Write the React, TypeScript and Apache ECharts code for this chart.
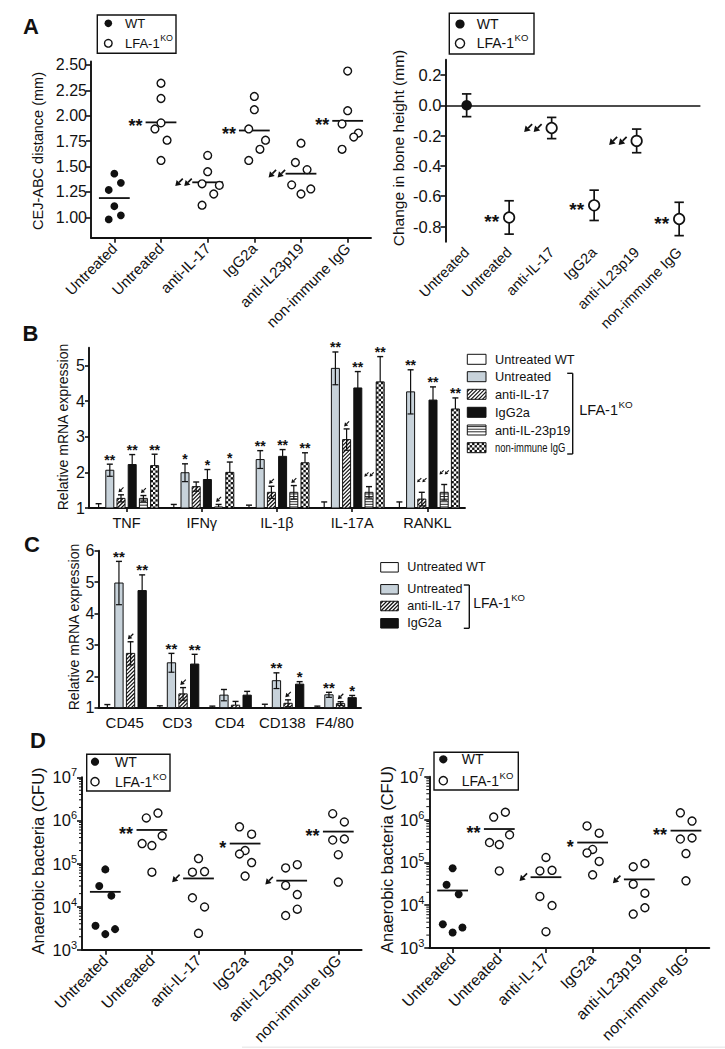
import React, { useEffect, useRef } from 'react';
import * as echarts from 'echarts';

const FONT = '"Liberation Sans", Arimo, Arial, Helvetica, sans-serif';
const BLACK = '#111111';
const GREY = '#c7d2da';

// ---------------- Panel A (left): CEJ-ABC distance (mm) ----------------
const treatmentLabels = ['Untreated', 'Untreated', 'anti-IL-17', 'IgG2a', 'anti-IL23p19', 'non-immune IgG'];
const cejWT = [1.43, 1.34, 1.27, 1.11, 0.98, 1.02];
const cejUntreatedKO = [2.32, 2.17, 1.93, 1.87, 1.76, 1.56];
const cejAntiIL17 = [1.61, 1.45, 1.33, 1.315, 1.23, 1.12];
const cejIgG2a = [2.19, 2.06, 1.87, 1.76, 1.67, 1.56];
const cejAntiIL23p19 = [1.73, 1.54, 1.47, 1.32, 1.28, 1.23];
const cejNonImmune = [2.44, 2.05, 1.92, 1.83, 1.79, 1.67];
const cejMedians = [1.19, 1.935, 1.345, 1.855, 1.43, 1.95];
const cejSignif = ['', '**', '<<', '**', '<<', '**'];
const cejTicks = [1.0, 1.25, 1.5, 1.75, 2.0, 2.25, 2.5];

// ---------------- Panel A (right): change in bone height (mm) ----------------
const boneMean = [0.0, -0.74, -0.15, -0.66, -0.235, -0.75];
const boneSem = [0.075, 0.11, 0.07, 0.1, 0.078, 0.11];
const boneSignif = ['', '**', '<<', '**', '<<', '**'];
const boneTicks = [-0.8, -0.6, -0.4, -0.2, 0.0, 0.2];

// ---------------- Panel B: relative mRNA expression (cytokines) ----------------
const cytokines = ['TNF', 'IFNγ', 'IL-1β', 'IL-17A', 'RANKL'];
const bLegendNames = ['Untreated WT', 'Untreated', 'anti-IL-17', 'IgG2a', 'anti-IL-23p19', 'non-immune IgG'];
const bWT = [1, 1, 1, 1, 1];
const bWTErr = [0.12, 0.1, 0.08, 0.17, 0.17];
const bWTSig = ['', '', '', '', ''];
const bUntreated = [2.06, 1.99, 2.36, 4.92, 4.26];
const bUntreatedErr = [0.17, 0.25, 0.25, 0.46, 0.62];
const bUntreatedSig = ['**', '*', '**', '**', '**'];
const bAntiIL17 = [1.27, 1.6, 1.44, 2.92, 1.25];
const bAntiIL17Err = [0.1, 0.13, 0.17, 0.3, 0.19];
const bAntiIL17Sig = ['<', '', '<', '<', '<<'];
const bIgG2a = [2.22, 1.8, 2.45, 4.37, 4.03];
const bIgG2aErr = [0.28, 0.28, 0.19, 0.46, 0.37];
const bIgG2aSig = ['**', '*', '**', '**', '**'];
const bAntiIL23p19 = [1.27, 1.03, 1.44, 1.44, 1.44];
const bAntiIL23p19Err = [0.08, 0.07, 0.19, 0.16, 0.22];
const bAntiIL23p19Sig = ['<', '<', '<', '<<', '<<'];
const bNonImmune = [2.19, 2.0, 2.27, 4.54, 3.78];
const bNonImmuneErr = [0.32, 0.29, 0.28, 0.71, 0.31];
const bNonImmuneSig = ['**', '*', '**', '**', '**'];
const bTicks = [1, 2, 3, 4, 5];

// ---------------- Panel C: relative mRNA expression (cell markers) ----------------
const cellMarkers = ['CD45', 'CD3', 'CD4', 'CD138', 'F4/80'];
const cLegendNames = ['Untreated WT', 'Untreated', 'anti-IL-17', 'IgG2a'];
const cWT = [1, 1, 1, 1, 1];
const cWTErr = [0.1, 0.06, 0.05, 0.11, 0.05];
const cWTSig = ['', '', '', '', ''];
const cUntreated = [4.97, 2.43, 1.4, 1.86, 1.41];
const cUntreatedErr = [0.69, 0.3, 0.18, 0.25, 0.08];
const cUntreatedSig = ['**', '**', '', '**', '**'];
const cAntiIL17 = [2.73, 1.44, 1.08, 1.14, 1.13];
const cAntiIL17Err = [0.37, 0.2, 0.12, 0.11, 0.06];
const cAntiIL17Sig = ['<', '<', '', '<', '<'];
const cIgG2a = [4.73, 2.39, 1.4, 1.75, 1.32];
const cIgG2aErr = [0.5, 0.31, 0.12, 0.08, 0.07];
const cIgG2aSig = ['**', '**', '', '*', '*'];

// ---------------- Panel D: anaerobic bacteria (CFU) ----------------
const cfuWT = [7.3e4, 3.0e4, 1.8e4, 3.6e3, 3.0e3, 2.3e3];
const cfuUntreatedKO = [1.48e6, 1.14e6, 4.4e5, 2.9e5, 2.6e5, 6.3e4];
const cfuAntiIL17 = [1.3e5, 6.3e4, 6.5e4, 1.6e4, 9.8e3, 2.4e3];
const cfuIgG2a = [7.1e5, 4.8e5, 2.0e5, 1.66e5, 1.05e5, 5.1e4];
const cfuAntiIL23p19 = [9.4e4, 7.9e4, 3.1e4, 1.9e4, 8.7e3, 6.2e3];
const cfuNonImmune = [1.43e6, 9.2e5, 3.5e5, 3.7e5, 1.6e5, 3.7e4];
const cfuMedians = [2.2e4, 6.0e5, 4.5e4, 2.9e5, 4.0e4, 5.5e5];
const cfuSignif = ['', '**', '<', '*', '<', '**'];

// ---------------- layout only: horizontal jitter of dots (fraction of a category band) ----------------
const cejJitter = [
  [0, 0.14, -0.12, 0, -0.12, 0.14],
  [0, 0, 0, -0.13, 0.13, 0],
  [0, 0, -0.12, 0.25, 0.13, -0.12],
  [0, 0, -0.12, 0.24, 0.12, -0.12],
  [0, -0.12, 0.13, -0.2, 0.21, 0],
  [0, 0, -0.12, 0.23, 0.13, -0.12],
];
const cfuJitter = [
  [0, -0.13, 0.13, -0.21, 0.21, 0],
  [0.13, -0.12, 0.22, -0.21, 0, 0],
  [0, -0.13, 0.13, -0.13, 0.13, 0],
  [-0.12, 0.14, 0, -0.12, 0.14, 0],
  [0.12, -0.13, -0.13, 0.12, 0.12, -0.13],
  [-0.12, 0.13, -0.12, 0.13, 0, 0],
];

// minor ticks of the log axis (2..9 x each decade)
const cfuMinorTicks: number[] = [];
for (let e = 3; e < 7; e++) for (let m = 2; m <= 9; m++) cfuMinorTicks.push(m * Math.pow(10, e));

// ---------------- helpers ----------------
let measureCtx: any = null;
function textWidth(t: string, font: string) {
  if (!measureCtx) measureCtx = document.createElement('canvas').getContext('2d');
  measureCtx.font = font;
  return measureCtx.measureText(t).width;
}

function txt(x: number, y: number, text: string, size: number, align = 'left', vAlign = 'middle', weight = 'normal', extra: any = {}) {
  const font = `${weight} ${size}px ${FONT}`;
  return {
    type: 'text', x, y, ...extra,
    style: {
      text, fill: BLACK, font, fontSize: size, fontFamily: FONT, fontWeight: weight,
      align, verticalAlign: vAlign, textAlign: align, textVerticalAlign: vAlign,
    },
  };
}

function seg(x1: number, y1: number, x2: number, y2: number, lw = 1.2) {
  return { type: 'line', shape: { x1, y1, x2, y2 }, style: { stroke: BLACK, lineWidth: lw } };
}

function arrowEls(tipX: number, tipY: number, a: number) {
  const s = Math.SQRT1_2;
  const D = a * Math.SQRT2;
  const head = D * 0.5;
  const halfW = D * 0.32;
  const bx = tipX + head * s;
  const by = tipY - head * s;
  const sx = tipX + a;
  const sy = tipY - a;
  const lw = Math.max(1.1, a * 0.22);
  return [
    { type: 'line', shape: { x1: sx, y1: sy, x2: bx, y2: by }, style: { stroke: BLACK, lineWidth: lw } },
    {
      type: 'polygon',
      shape: { points: [[tipX, tipY], [bx + halfW * s, by + halfW * s], [bx - halfW * s, by - halfW * s]] },
      style: { fill: BLACK },
    },
  ];
}

function sideMark(mark: string, rightX: number, cy: number, o: any) {
  if (!mark) return [];
  if (mark[0] === '*') return [txt(rightX - o.starGap, cy + o.star * 0.22, mark, o.star, 'right', 'middle', 'bold')];
  const n = mark.length;
  const a = o.arrow;
  const els: any[] = [];
  const r0 = rightX - o.arrowGap;
  for (let k = 0; k < n; k++) {
    const right = r0 - (n - 1 - k) * (a + 1.5);
    els.push(...arrowEls(right - a, cy + a / 2, a));
  }
  return els;
}

function topMark(mark: string, cx: number, yHi: number, g: any) {
  if (!mark) return [];
  if (mark[0] === '*') return [txt(cx, yHi + 2.5, mark, g.star, 'center', 'bottom', 'bold')];
  const n = mark.length;
  const a = n > 1 ? g.arrow2 : g.arrow;
  const gap = 1;
  const total = n * a + (n - 1) * gap;
  const bottom = yHi - (n > 1 ? 10 : 2.5);
  const els: any[] = [];
  for (let k = 0; k < n; k++) {
    const left = cx - total / 2 + k * (a + gap);
    els.push(...arrowEls(left, bottom, a));
  }
  return els;
}

function patternEls(kind: string, x: number, y: number, w: number, h: number) {
  const els: any[] = [];
  const fill = kind === 'grey' ? GREY : kind === 'black' ? BLACK : '#ffffff';
  els.push({ type: 'rect', shape: { x, y, width: w, height: h }, style: { fill } });
  if (kind === 'hatch') {
    const step = 3.8;
    for (let k = x + y + step * 0.6; k < x + w + y + h; k += step) {
      const xa = Math.max(x, k - (y + h));
      const xb = Math.min(x + w, k - y);
      if (xb - xa > 0.3) els.push({ type: 'line', shape: { x1: xa, y1: k - xa, x2: xb, y2: k - xb }, style: { stroke: BLACK, lineWidth: 1.2 } });
    }
  } else if (kind === 'hlines') {
    for (let yy = y + 1.6; yy < y + h - 0.6; yy += 2.6) {
      els.push({ type: 'line', shape: { x1: x, y1: yy, x2: x + w, y2: yy }, style: { stroke: BLACK, lineWidth: 0.9 } });
    }
  } else if (kind === 'checker') {
    const c = 2.4;
    for (let r = 0; r * c < h; r++) {
      for (let q = 0; q * c < w; q++) {
        if ((r + q) % 2 === 0) {
          const x0 = x + q * c;
          const y0 = y + r * c;
          els.push({ type: 'rect', shape: { x: x0, y: y0, width: Math.min(c, x + w - x0), height: Math.min(c, y + h - y0) }, style: { fill: BLACK } });
        }
      }
    }
  }
  els.push({ type: 'rect', shape: { x, y, width: w, height: h }, style: { fill: 'none', stroke: BLACK, lineWidth: 1 } });
  return els;
}

function scatterPoints(groups: number[][], firstGroup: number, jitter: number[][]) {
  const pts: number[][] = [];
  groups.forEach((vals, g) => {
    const gi = firstGroup + g;
    vals.forEach((v, k) => pts.push([gi + 0.5 + jitter[gi][k], v]));
  });
  return pts;
}

function barSeries(xAxisIndex: number, yAxisIndex: number, values: number[], errs: number[], sigs: string[], slot: number, nSlots: number, kind: string, g: any) {
  return {
    type: 'custom', xAxisIndex, yAxisIndex, clip: false, silent: true, z: 2,
    data: values.map((v, i) => [i, v, errs[i]]),
    renderItem: (params: any, api: any) => {
      const i = api.value(0);
      const v = api.value(1);
      const e = api.value(2);
      const c = api.coord([i, v]);
      const base = api.coord([i, g.yMin])[1];
      const cx = c[0] + (slot - (nSlots - 1) / 2) * g.slot;
      const top = c[1];
      const children: any[] = [];
      if (base - top > 0.5) children.push(...patternEls(kind, cx - g.bar / 2, top, g.bar, base - top));
      const yHi = api.coord([i, v + e])[1];
      const loVal = v - e;
      const drawLow = loVal > g.yMin && (kind === 'grey' || kind === 'hatch' || kind === 'hlines');
      const yLo = drawLow ? api.coord([i, loVal])[1] : top;
      const cw = g.cap / 2;
      children.push(seg(cx, yLo, cx, yHi, 1.2), seg(cx - cw, yHi, cx + cw, yHi, 1.4));
      if (drawLow) children.push(seg(cx - cw, yLo, cx + cw, yLo, 1.2));
      children.push(...topMark(sigs[params.dataIndex], cx, yHi, g));
      return { type: 'group', children };
    },
  };
}

function medianSeries(xAxisIndex: number, yAxisIndex: number, medians: number[], sigs: string[], o: any) {
  return {
    type: 'custom', xAxisIndex, yAxisIndex, clip: false, silent: true, z: 3,
    data: medians.map((m, i) => [i, m]),
    renderItem: (params: any, api: any) => {
      const i = api.value(0);
      const m = api.value(1);
      const c = api.coord([i, m]);
      const band = api.size([1, 0])[0];
      const half = band * 0.33;
      const children: any[] = [seg(c[0] - half, c[1], c[0] + half, c[1], 1.8)];
      children.push(...sideMark(sigs[params.dataIndex], c[0] - half, c[1], o));
      return { type: 'group', children };
    },
  };
}

function minorTickSeries(xAxisIndex: number, yAxisIndex: number) {
  return {
    type: 'custom', xAxisIndex, yAxisIndex, clip: false, silent: true, z: 2,
    data: cfuMinorTicks.map((v) => [0, v]),
    renderItem: (params: any, api: any) => {
      const c = api.coord([0, api.value(1)]);
      return seg(c[0] - 3, c[1], c[0], c[1], 1);
    },
  };
}

function koLabel(x: number, y: number, size: number) {
  const f = `normal ${size}px ${FONT}`;
  const w = textWidth('LFA-1', f);
  return [txt(x, y, 'LFA-1', size), txt(x + w + 0.5, y - size * 0.38, 'KO', size * 0.68)];
}

function scatterLegend(x0: number, y0: number, x1: number, y1: number, cx: number, cy1: number, cy2: number, tx: number, r: number, fs: number) {
  return [
    { type: 'rect', shape: { x: x0, y: y0, width: x1 - x0, height: y1 - y0 }, style: { fill: '#ffffff', stroke: BLACK, lineWidth: 1.4 } },
    { type: 'circle', shape: { cx, cy: cy1, r }, style: { fill: BLACK } },
    txt(tx, cy1, 'WT', fs),
    { type: 'circle', shape: { cx, cy: cy2, r }, style: { fill: '#ffffff', stroke: BLACK, lineWidth: 1.4 } },
    ...koLabel(tx, cy2, fs),
  ];
}

function barLegend(names: string[], kinds: string[], rowsY: number[], sx: number, sw: number, sh: number, tx: number, fs: number, bracketX: number, bracketTop: number, bracketBottom: number, koX: number, koY: number, koSize: number, condensedLast: boolean) {
  const els: any[] = [];
  names.forEach((n, k) => {
    els.push(...patternEls(kinds[k], sx, rowsY[k] - sh / 2, sw, sh));
    const extra = condensedLast && k === names.length - 1 ? { scaleX: 0.74 } : {};
    els.push(txt(tx, rowsY[k], n, fs, 'left', 'middle', 'normal', extra));
  });
  els.push(seg(bracketX, bracketTop, bracketX, bracketBottom, 1.4));
  els.push(seg(bracketX - 5.5, bracketTop, bracketX, bracketTop, 1.4));
  els.push(seg(bracketX - 5.5, bracketBottom, bracketX, bracketBottom, 1.4));
  els.push(...koLabel(koX, koY, koSize));
  return els;
}

function buildOption() {
  const axisLineStyle = { color: BLACK, width: 1.9 };
  const tickStyle = { color: BLACK, width: 1.6 };
  const lab = (size: number, extra: any = {}) => ({ color: BLACK, fontFamily: FONT, fontSize: size, ...extra });

  const grids = [
    { left: 91, top: 61.4, width: 280, height: 176.3 },
    { left: 445.4, top: 59.8, width: 255, height: 181.9 },
    { left: 89, top: 347.7, width: 376, height: 160.3 },
    { left: 98.5, top: 550.7, width: 262.5, height: 157 },
    { left: 82, top: 777.3, width: 279.6, height: 172.4 },
    { left: 429.3, top: 776.7, width: 280, height: 171.3 },
  ].map((g) => ({ ...g, containLabel: false, outerBoundsMode: 'none' }));

  const rotatedCat = (gi: number, size: number, showLine: boolean) => ({
    type: 'category', gridIndex: gi, data: treatmentLabels,
    axisLine: { show: showLine, onZero: false, lineStyle: axisLineStyle },
    axisTick: { show: showLine, alignWithLabel: true, length: 5, lineStyle: tickStyle },
    axisLabel: lab(size, { interval: 0, rotate: 45, margin: 8 }),
    splitLine: { show: false },
  });
  const hiddenVal = (gi: number) => ({ type: 'value', gridIndex: gi, min: 0, max: 6, show: false });
  const logY = (gi: number) => ({
    type: 'log', gridIndex: gi, logBase: 10, min: 1e3, max: 1e7,
    axisLine: { show: true, onZero: false, lineStyle: axisLineStyle },
    axisTick: { show: true, length: 5, lineStyle: tickStyle },
    splitLine: { show: false },
    minorTick: { show: false },
    axisLabel: {
      margin: 5,
      formatter: (v: number) => `{b|10}{s|${Math.round(Math.log10(v))}}`,
      rich: {
        b: { fontSize: 16.5, fontFamily: FONT, color: BLACK, lineHeight: 21 },
        s: { fontSize: 11, fontFamily: FONT, color: BLACK, lineHeight: 11, verticalAlign: 'top' },
      },
    },
  });

  const xAxis = [
    rotatedCat(0, 15, true),
    hiddenVal(0),
    rotatedCat(1, 14.5, false),
    {
      type: 'category', gridIndex: 2, data: cytokines,
      axisLine: { show: true, onZero: false, lineStyle: axisLineStyle },
      axisTick: { show: true, alignWithLabel: true, length: 4, lineStyle: tickStyle },
      axisLabel: lab(14.5, { interval: 0, margin: 7 }), splitLine: { show: false },
    },
    {
      type: 'category', gridIndex: 3, data: cellMarkers,
      axisLine: { show: true, onZero: false, lineStyle: axisLineStyle },
      axisTick: { show: false },
      axisLabel: lab(15, { interval: 0, margin: 7 }), splitLine: { show: false },
    },
    rotatedCat(4, 15.5, true),
    hiddenVal(4),
    rotatedCat(5, 15.5, true),
    hiddenVal(5),
  ];

  const yAxis = [
    {
      type: 'value', gridIndex: 0, min: 0.8, max: 2.535,
      axisLine: { show: true, onZero: false, lineStyle: axisLineStyle },
      axisTick: { show: true, length: 5, customValues: cejTicks, lineStyle: tickStyle },
      axisLabel: lab(16, { customValues: cejTicks, margin: 4, formatter: (v: number) => v.toFixed(2) }),
      splitLine: { show: false },
    },
    {
      type: 'value', gridIndex: 1, min: -0.9, max: 0.3,
      axisLine: { show: true, onZero: false, lineStyle: axisLineStyle },
      axisTick: { show: true, length: 5, customValues: boneTicks, lineStyle: tickStyle },
      axisLabel: lab(16.5, { customValues: boneTicks, margin: 4, formatter: (v: number) => (Math.abs(v) < 1e-9 ? 0 : v).toFixed(1) }),
      splitLine: { show: false },
    },
    {
      type: 'value', gridIndex: 2, min: 1, max: 5.5,
      axisLine: { show: true, onZero: false, lineStyle: axisLineStyle },
      axisTick: { show: true, length: 4, customValues: bTicks, lineStyle: tickStyle },
      axisLabel: lab(16, { customValues: bTicks, margin: 4 }),
      splitLine: { show: false },
    },
    {
      type: 'value', gridIndex: 3, min: 1, max: 6, interval: 1,
      axisLine: { show: true, onZero: false, lineStyle: axisLineStyle },
      axisTick: { show: true, length: 4, lineStyle: tickStyle },
      axisLabel: lab(16, { margin: 4 }),
      splitLine: { show: false },
    },
    logY(4),
    logY(5),
  ];

  const openDot = (bw: number) => ({ color: '#ffffff', borderColor: BLACK, borderWidth: bw, opacity: 1 });
  const fillDot = { color: BLACK, opacity: 1 };

  const scatterMarkA = { star: 18, starGap: 3, arrow: 7.5, arrowGap: 0.5 };
  const scatterMarkD = { star: 18, starGap: 3.5, arrow: 7.5, arrowGap: 3.5 };
  const bGeom = { yMin: 1, slot: 11.2, bar: 8, cap: 6, star: 14, arrow: 5, arrow2: 4.2 };
  const cGeom = { yMin: 1, slot: 11.6, bar: 8.3, cap: 6, star: 15, arrow: 5.5, arrow2: 4.5 };

  const series: any[] = [
    // ----- A left -----
    { type: 'scatter', xAxisIndex: 1, yAxisIndex: 0, silent: true, z: 4, symbol: 'circle', symbolSize: 7.8, itemStyle: fillDot, data: scatterPoints([cejWT], 0, cejJitter) },
    { type: 'scatter', xAxisIndex: 1, yAxisIndex: 0, silent: true, z: 4, symbol: 'circle', symbolSize: 7.8, itemStyle: openDot(1.4), data: scatterPoints([cejUntreatedKO, cejAntiIL17, cejIgG2a, cejAntiIL23p19, cejNonImmune], 1, cejJitter) },
    medianSeries(0, 0, cejMedians, cejSignif, scatterMarkA),
    // ----- A right -----
    {
      type: 'custom', xAxisIndex: 2, yAxisIndex: 1, clip: false, silent: true, z: 3,
      data: boneMean.map((m, i) => [i, m, boneSem[i]]),
      renderItem: (params: any, api: any) => {
        const i = api.value(0);
        const m = api.value(1);
        const e = api.value(2);
        const c = api.coord([i, m]);
        const yT = api.coord([i, m + e])[1];
        const yB = api.coord([i, m - e])[1];
        const cw = 4.7;
        const children: any[] = [seg(c[0], yT, c[0], yB, 1.7), seg(c[0] - cw, yT, c[0] + cw, yT, 1.7), seg(c[0] - cw, yB, c[0] + cw, yB, 1.7)];
        children.push(...sideMark(boneSignif[params.dataIndex], c[0] - 10, c[1], { star: 19, starGap: 0, arrow: 8, arrowGap: 0 }));
        return { type: 'group', children };
      },
    },
    { type: 'scatter', xAxisIndex: 2, yAxisIndex: 1, silent: true, z: 5, symbol: 'circle', symbolSize: 10.5, itemStyle: fillDot, data: [[0, boneMean[0]]] },
    {
      type: 'scatter', xAxisIndex: 2, yAxisIndex: 1, silent: true, z: 5, symbol: 'circle', symbolSize: 10.5, itemStyle: openDot(1.7),
      data: boneMean.slice(1).map((m, k) => [k + 1, m]),
      markLine: { silent: true, symbol: ['none', 'none'], label: { show: false }, lineStyle: { color: BLACK, width: 1.7, type: 'solid' }, data: [{ yAxis: 0 }], z: 1 },
    },
    // ----- B -----
    barSeries(3, 2, bWT, bWTErr, bWTSig, 0, 6, 'white', bGeom),
    barSeries(3, 2, bUntreated, bUntreatedErr, bUntreatedSig, 1, 6, 'grey', bGeom),
    barSeries(3, 2, bAntiIL17, bAntiIL17Err, bAntiIL17Sig, 2, 6, 'hatch', bGeom),
    barSeries(3, 2, bIgG2a, bIgG2aErr, bIgG2aSig, 3, 6, 'black', bGeom),
    barSeries(3, 2, bAntiIL23p19, bAntiIL23p19Err, bAntiIL23p19Sig, 4, 6, 'hlines', bGeom),
    barSeries(3, 2, bNonImmune, bNonImmuneErr, bNonImmuneSig, 5, 6, 'checker', bGeom),
    // ----- C -----
    barSeries(4, 3, cWT, cWTErr, cWTSig, 0, 4, 'white', cGeom),
    barSeries(4, 3, cUntreated, cUntreatedErr, cUntreatedSig, 1, 4, 'grey', cGeom),
    barSeries(4, 3, cAntiIL17, cAntiIL17Err, cAntiIL17Sig, 2, 4, 'hatch', cGeom),
    barSeries(4, 3, cIgG2a, cIgG2aErr, cIgG2aSig, 3, 4, 'black', cGeom),
  ];

  // ----- D left and right (same data) -----
  [[5, 6, 4], [7, 8, 5]].forEach(([catX, valX, yi]) => {
    series.push(
      { type: 'scatter', xAxisIndex: valX, yAxisIndex: yi, silent: true, z: 4, symbol: 'circle', symbolSize: 8, itemStyle: fillDot, data: scatterPoints([cfuWT], 0, cfuJitter) },
      { type: 'scatter', xAxisIndex: valX, yAxisIndex: yi, silent: true, z: 4, symbol: 'circle', symbolSize: 8, itemStyle: openDot(1.4), data: scatterPoints([cfuUntreatedKO, cfuAntiIL17, cfuIgG2a, cfuAntiIL23p19, cfuNonImmune], 1, cfuJitter) },
      medianSeries(catX, yi, cfuMedians, cfuSignif, scatterMarkD),
      minorTickSeries(valX, yi),
    );
  });

  // ----- graphic: panel letters, axis titles, legends -----
  const graphics: any[] = [];
  [['A', 31, 26], ['B', 30.5, 333.3], ['C', 32, 544.2], ['D', 38, 740]].forEach(([t, x, y]: any) => {
    graphics.push(txt(x, y, t, 22, 'center', 'middle', 'bold'));
  });
  const yTitle = (x: number, y: number, t: string, size: number) => txt(x, y, t, size, 'center', 'middle', 'normal', { rotation: Math.PI / 2 });
  graphics.push(
    yTitle(38, 151, 'CEJ-ABC distance (mm)', 14.5),
    yTitle(398, 148, 'Change in bone height (mm)', 15.5),
    yTitle(62.5, 427, 'Relative mRNA expression', 14),
    yTitle(74, 627, 'Relative mRNA expression', 14),
    yTitle(38.3, 861, 'Anaerobic bacteria (CFU)', 16.5),
    yTitle(387, 859.5, 'Anaerobic bacteria (CFU)', 16.5),
  );
  graphics.push(...scatterLegend(97.3, 15, 176, 53.3, 108.3, 23.3, 43.3, 125, 3.8, 13));
  graphics.push(...scatterLegend(449.3, 13.3, 534, 54, 460, 24, 43.3, 476.7, 4.6, 14));
  graphics.push(...scatterLegend(86.7, 754.3, 170, 791, 95, 761.7, 781.7, 115, 4.1, 14));
  graphics.push(...scatterLegend(434, 752.3, 518.3, 790, 443.3, 759.3, 780.7, 461.7, 4.1, 14));
  graphics.push(...barLegend(bLegendNames, ['white', 'grey', 'hatch', 'black', 'hlines', 'checker'],
    [359.3, 376.7, 394.3, 412.3, 430, 447.7], 467.3, 18.7, 10, 495, 12.8, 572.7, 373.3, 454, 579.3, 410, 14.5, true));
  graphics.push(...barLegend(cLegendNames, ['white', 'grey', 'hatch', 'black'],
    [567.3, 589.3, 606, 623.3], 380.7, 17.6, 9.5, 407.3, 12.6, 469.3, 585, 628.3, 473.3, 603.3, 14, false));
  graphics.push({ type: 'rect', shape: { x: 242, y: 1046.5, width: 483, height: 1.5 }, style: { fill: '#ececec' } });

  return {
    animation: false,
    backgroundColor: '#ffffff',
    textStyle: { fontFamily: FONT },
    grid: grids,
    xAxis,
    yAxis,
    series,
    graphic: { elements: graphics },
  };
}

export default function App() {
  const ref = useRef<HTMLDivElement>(null);
  useEffect(() => {
    if (!ref.current) return;
    const chart = echarts.init(ref.current, null, { renderer: 'svg' });
    chart.setOption(buildOption() as any);
    return () => {
      chart.dispose();
    };
  }, []);
  return <div ref={ref} style={{ position: 'absolute', left: 0, top: 0, width: '725px', height: '1049px', background: '#ffffff' }} />;
}
